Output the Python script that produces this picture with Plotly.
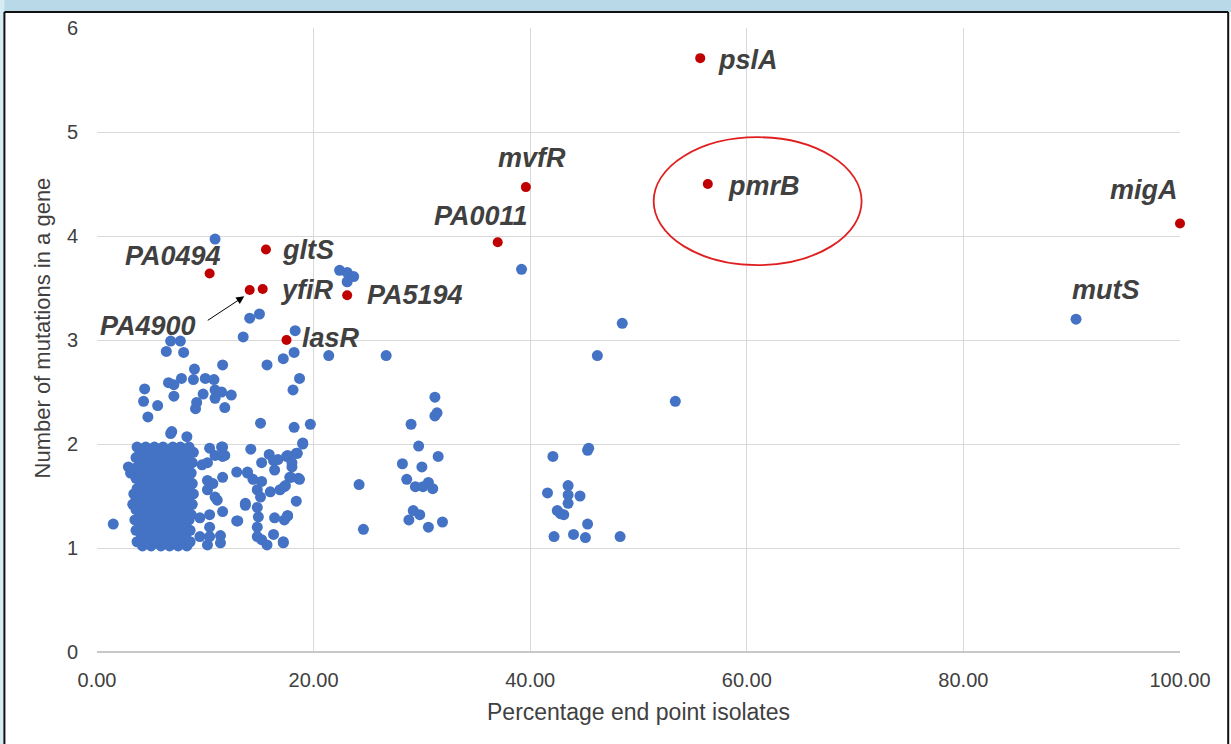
import plotly.graph_objects as go

# ---------------- data ----------------
# highlighted (red) genes
RED_GENES = ["pslA", "pmrB", "mvfR", "PA0011", "migA", "gltS", "PA0494", "yfiR", "PA4900", "PA5194", "lasR"]
RED_X = [55.7, 56.4, 39.6, 37.0, 100.0, 15.6, 10.4, 15.3, 14.1, 23.1, 17.5]
RED_Y = [5.71, 4.50, 4.47, 3.94, 4.12, 3.87, 3.64, 3.49, 3.48, 3.43, 3.00]

# scattered blue genes
BLUE_X = [90.4,
          39.2, 48.5, 46.2, 53.4, 45.4, 45.3, 42.1, 41.6, 43.5, 43.5, 44.6, 43.5, 42.5, 42.8, 43.1, 45.3, 42.2, 44.0, 45.1, 48.3,
          31.2, 31.4, 31.2, 29.0, 29.7, 31.5, 28.2, 30.0, 28.6, 29.4, 30.1, 30.6, 31.0, 29.2, 29.8, 28.8, 30.6, 31.9,
          21.4, 26.7, 18.2, 17.2, 18.7, 18.1, 18.2, 19.7, 19.0, 18.4, 17.5, 18.0, 18.7, 17.8, 17.3, 18.4, 17.6, 17.3, 17.2, 24.2, 24.6,
          13.5, 18.3, 15.7, 11.6, 11.5, 12.4, 11.8, 15.1,
          6.8, 7.7, 6.4, 8.0, 9.0, 7.8, 6.6, 8.9, 10.0, 10.8, 7.1, 4.4, 10.9, 9.8, 7.1, 4.3, 5.6, 9.2, 10.9, 9.1, 4.7, 6.9,
          10.9, 22.4, 23.1, 23.7, 23.1, 15.0, 14.1,
          1.5, 6.8, 2.9, 8.3,
          10.4, 11.5, 10.9, 11.8, 9.7, 10.2, 12.9, 13.9, 10.2, 10.7, 11.6, 10.2, 11.1, 10.9, 8.3, 13.7, 9.5, 10.4, 11.6, 12.9,
          10.4, 9.5, 10.4, 11.4, 11.4, 10.2,
          14.2, 19.0, 15.9, 15.2, 16.3, 16.7, 17.6, 18.5, 16.4, 18.0, 13.9, 14.4, 15.2, 18.6, 17.9, 17.4, 16.9, 14.8, 16.0, 15.1,
          13.7, 14.8, 14.9, 16.4, 17.6, 13.0, 14.8, 14.8, 16.3, 15.2, 17.2, 15.7, 11.6, 11.6]
BLUE_Y = [3.20,
          3.68, 3.16, 2.85, 2.41, 1.96, 1.94, 1.88, 1.53, 1.60, 1.51, 1.50, 1.43, 1.36, 1.33, 1.32, 1.23, 1.11, 1.13, 1.10, 1.11,
          2.45, 2.30, 2.27, 2.19, 1.98, 1.88, 1.81, 1.78, 1.66, 1.59, 1.59, 1.63, 1.57, 1.36, 1.32, 1.27, 1.20, 1.25,
          2.85, 2.85, 2.88, 2.82, 2.63, 2.52, 2.16, 2.19, 2.01, 1.91, 1.88, 1.78, 1.66, 1.68, 1.59, 1.45, 1.31, 1.27, 1.05, 1.61, 1.18,
          3.03, 3.09, 2.76, 2.76, 2.50, 2.47, 2.35, 2.20,
          2.99, 2.99, 2.89, 2.88, 2.72, 2.63, 2.59, 2.62, 2.63, 2.62, 2.57, 2.53, 2.52, 2.48, 2.46, 2.41, 2.37, 2.40, 2.44, 2.34, 2.26, 2.12,
          3.97, 3.67, 3.65, 3.61, 3.56, 3.25, 3.21,
          1.23, 2.10, 1.78, 2.07,
          1.96, 1.97, 1.89, 1.89, 1.80, 1.82, 1.73, 1.72, 1.65, 1.62, 1.68, 1.56, 1.46, 1.49, 1.47, 1.43, 1.29, 1.32, 1.35, 1.26,
          1.20, 1.11, 1.11, 1.12, 1.05, 1.03,
          1.95, 2.00, 1.90, 1.82, 1.84, 1.85, 1.89, 1.91, 1.75, 1.82, 1.73, 1.66, 1.64, 1.67, 1.68, 1.60, 1.56, 1.56, 1.54, 1.49,
          1.41, 1.39, 1.30, 1.29, 1.31, 1.26, 1.20, 1.11, 1.13, 1.08, 1.06, 1.03, 1.97, 1.88]

# dense block of genes at low percentage (rows of y with their x values)
DENSE_ROWS_Y = [1.02, 1.06, 1.12, 1.17, 1.22, 1.27, 1.32, 1.37, 1.42, 1.47,
                1.52, 1.57, 1.62, 1.67, 1.72, 1.77, 1.82, 1.87, 1.92, 1.97]
DENSE_ROWS_X = [
    [4.2, 5.0, 5.9, 6.7, 7.5, 8.3],
    [3.7, 4.6, 5.4, 6.3, 7.1, 7.9, 8.6],
    [4.1, 4.9, 5.8, 6.6, 7.4, 8.2],
    [3.6, 4.5, 5.3, 6.2, 7.0, 7.8, 8.6],
    [4.0, 4.8, 5.7, 6.5, 7.3, 8.1],
    [3.5, 4.4, 5.2, 6.1, 6.9, 7.7, 8.5],
    [4.0, 4.8, 5.6, 6.4, 7.2, 8.0, 8.7],
    [3.6, 4.4, 5.2, 6.0, 6.8, 7.6, 8.4],
    [3.3, 4.0, 4.8, 5.6, 6.4, 7.2, 8.0, 8.8],
    [3.6, 4.4, 5.2, 6.0, 6.8, 7.6, 8.4],
    [3.4, 4.1, 4.9, 5.7, 6.5, 7.3, 8.1, 8.9],
    [3.7, 4.5, 5.3, 6.1, 6.9, 7.7, 8.5],
    [4.0, 4.8, 5.6, 6.4, 7.2, 8.0, 8.8],
    [3.6, 4.4, 5.2, 6.0, 6.8, 7.6, 8.4],
    [3.1, 4.0, 4.8, 5.6, 6.4, 7.2, 8.0, 8.7],
    [3.6, 4.4, 5.2, 6.0, 6.8, 7.6, 8.4],
    [4.0, 4.8, 5.6, 6.4, 7.2, 8.0, 8.8],
    [3.6, 4.4, 5.2, 6.0, 6.8, 7.6, 8.4],
    [4.0, 4.8, 5.6, 6.4, 7.2, 8.0, 8.9],
    [3.7, 4.5, 5.3, 6.1, 7.0, 7.7, 8.5],
]

# text labels (gene, x, y, anchor)
LABELS = [
    ("pslA", 57.2, 5.69, "left"),
    ("pmrB", 58.1, 4.48, "left"),
    ("mvfR", 40.2, 4.75, "center"),
    ("PA0011", 35.5, 4.19, "center"),
    ("migA", 100.0, 4.44, "right"),
    ("mutS", 93.2, 3.48, "center"),
    ("gltS", 16.9, 3.87, "left"),
    ("PA0494", 11.6, 3.81, "right"),
    ("yfiR", 16.7, 3.48, "left"),
    ("PA4900", 9.3, 3.13, "right"),
    ("PA5194", 24.7, 3.43, "left"),
    ("lasR", 18.7, 3.02, "left"),
]

X_TICKS = [0, 20, 40, 60, 80, 100]
X_TICK_TEXT = ["0.00", "20.00", "40.00", "60.00", "80.00", "100.00"]
Y_TICKS = [0, 1, 2, 3, 4, 5, 6]

# ---------------- figure ----------------
dense_x, dense_y = [], []
for yv, xs in zip(DENSE_ROWS_Y, DENSE_ROWS_X):
    for xv in xs:
        dense_x.append(xv)
        dense_y.append(yv)

fig = go.Figure()
BLUE = "#4472C4"
RED = "#C00000"
fig.add_trace(go.Scatter(x=dense_x + BLUE_X, y=dense_y + BLUE_Y, mode="markers",
                         marker=dict(color=BLUE, size=11, line=dict(width=0)),
                         showlegend=False, hoverinfo="x+y"))
fig.add_trace(go.Scatter(x=RED_X, y=RED_Y, mode="markers", text=RED_GENES,
                         marker=dict(color=RED, size=10, line=dict(width=0)),
                         showlegend=False, cliponaxis=False))

FONT = "Liberation Sans, Arial, sans-serif"
for name, lx, ly, anc in LABELS:
    fig.add_annotation(x=lx, y=ly, text=f"<b><i>{name}</i></b>", showarrow=False,
                       xanchor=anc, yanchor="middle",
                       font=dict(family=FONT, size=27, color="#404040"))

# arrow from PA4900 label to its point
fig.add_annotation(x=13.6, y=3.42, ax=-38, ay=25, text="", showarrow=True,
                   arrowhead=2, arrowsize=1.6, arrowwidth=1, arrowcolor="#000000",
                   standoff=0)

# axis titles
fig.add_annotation(xref="paper", yref="paper", x=0.5, y=-0.0962, yanchor="middle",
                   text="Percentage end point isolates", showarrow=False,
                   font=dict(family=FONT, size=23, color="#404040"))
fig.add_annotation(xref="paper", yref="paper", x=-0.0499, y=0.52, xanchor="center", yanchor="middle",
                   textangle=-90, text="Number of mutations in a gene", showarrow=False,
                   font=dict(family=FONT, size=22, color="#404040"))

# red ellipse around pmrB
fig.add_shape(type="circle", xref="x", yref="y", x0=51.4, x1=70.6, y0=3.72, y1=4.95,
              line=dict(color="#E02020", width=1.8))

# screenshot frame decorations
fig.add_shape(type="rect", xref="paper", yref="paper", x0=-0.1, x1=1.06, y0=1.0256, y1=1.06,
              fillcolor="#b9d9e8", line=dict(width=0), layer="above")
fig.add_shape(type="rect", xref="paper", yref="paper", x0=-0.1, x1=-0.0855, y0=-0.2, y1=1.06,
              fillcolor="#d6ecf5", line=dict(width=0), layer="above")
fig.add_shape(type="line", xref="paper", yref="paper", x0=-0.0855, x1=1.0445, y0=1.0256, y1=1.0256,
              line=dict(color="#111111", width=2))
fig.add_shape(type="line", xref="paper", yref="paper", x0=-0.0855, x1=-0.0855, y0=-0.2, y1=1.0256,
              line=dict(color="#111111", width=2))
fig.add_shape(type="line", xref="paper", yref="paper", x0=1.0445, x1=1.0445, y0=-0.2, y1=1.0256,
              line=dict(color="#111111", width=2))

fig.update_layout(
    width=1231, height=744,
    margin=dict(l=97, r=51, t=28, b=92),
    paper_bgcolor="white", plot_bgcolor="white",
    font=dict(family=FONT, color="#404040"),
    xaxis=dict(range=[0, 100], tickvals=X_TICKS, ticktext=X_TICK_TEXT,
               showgrid=True, gridcolor="#d9d9d9", gridwidth=1.3, zeroline=False,
               showline=False, ticks="", ticklabelstandoff=14,
               tickfont=dict(size=20, color="#404040")),
    yaxis=dict(range=[0, 6], tickvals=Y_TICKS, showgrid=True, gridcolor="#d9d9d9", gridwidth=1.3,
               zeroline=True, zerolinecolor="#c8c8c8", zerolinewidth=2,
               showline=False, ticks="", ticklabelstandoff=18,
               tickfont=dict(size=20, color="#404040")),
)

fig.write_html("out.html")
